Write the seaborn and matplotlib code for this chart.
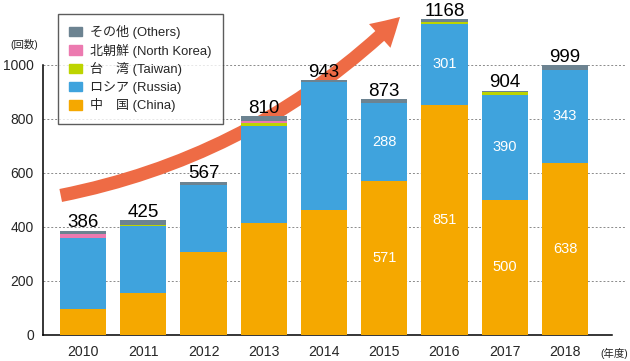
import numpy as np
import pandas as pd
import matplotlib
matplotlib.use('Agg')
import matplotlib.pyplot as plt
import matplotlib.patches as mpatches
import seaborn as sns

# data
years = ['2010', '2011', '2012', '2013', '2014', '2015', '2016', '2017', '2018']
china = [96, 156, 306, 415, 464, 571, 851, 500, 638]
russia = [264, 247, 248, 359, 473, 288, 301, 390, 343]
taiwan = [0, 5, 0, 10, 0, 0, 8, 8, 0]
north_korea = [13, 0, 0, 9, 0, 0, 0, 0, 0]
others = [13, 17, 13, 17, 6, 14, 8, 6, 18]
totals = [386, 425, 567, 810, 943, 873, 1168, 904, 999]
inner_years = ['2015', '2016', '2017', '2018']

layer_names = ['中　国 (China)', 'ロシア (Russia)', '台　湾 (Taiwan)',
               '北朝鮮 (North Korea)', 'その他 (Others)']
layer_colors = ['#F5A800', '#3FA3DD', '#BDD400', '#EC7AB0', '#6C8391']

df = pd.DataFrame({'year': years, 'china': china, 'russia': russia,
                   'taiwan': taiwan, 'nk': north_korea, 'others': others})
cols = ['china', 'russia', 'taiwan', 'nk', 'others']
cum = df[cols].cumsum(axis=1)

sns.set_style('white')
plt.rcParams['font.family'] = ['Liberation Sans', 'Noto Sans CJK JP', 'DejaVu Sans']

fig = plt.figure(figsize=(6.3, 3.61), dpi=100)
ax = fig.add_axes([43 / 630, 26 / 361, (625 - 43) / 630, 335 / 361])

# stacked bars: draw cumulative heights from the top layer down
for col, color in zip(cols[::-1], layer_colors[::-1]):
    sns.barplot(x=df['year'], y=cum[col], color=color, width=0.77,
                linewidth=0, saturation=1, ax=ax, zorder=3)

# totals above the bars
for i, t in enumerate(totals):
    top = cum['others'][i]
    ax.annotate(str(t), (i, top), xytext=(0, 2.5), textcoords='offset points',
                ha='center', va='baseline', fontsize=13.5, color='black', zorder=6)

# white labels inside the china / russia segments
for i, y in enumerate(years):
    if y in inner_years:
        ax.text(i, china[i] / 2, str(china[i]), ha='center', va='center',
                color='white', fontsize=10.5, zorder=6)
        ax.text(i, china[i] + russia[i] / 2, str(russia[i]), ha='center',
                va='center', color='white', fontsize=10.5, zorder=6)

# axes styling
ax.set_xlim(-0.664, 8.996)
ax.set_ylim(0, 1240)
ax.set_yticks([0, 200, 400, 600, 800, 1000])
ax.set_xlabel('')
ax.set_ylabel('')
for s in ['top', 'right']:
    ax.spines[s].set_visible(False)
ax.spines['left'].set_bounds(0, 1000)
ax.spines['bottom'].set_bounds(-0.664, 8.78)
for s in ['left', 'bottom']:
    ax.spines[s].set_color('black')
    ax.spines[s].set_linewidth(1.1)
ax.tick_params(axis='y', length=3.6, width=1, color='black', pad=3, labelsize=10)
ax.tick_params(axis='x', length=0, pad=7.5, labelsize=10.2)
ax.set_xticks([8.78], minor=True)
ax.tick_params(axis='x', which='minor', direction='in', length=4, width=1, color='black')
ax.yaxis.grid(True, linestyle=(0, (2, 2)), color='#8a8a8a', linewidth=0.7, zorder=0)
ax.set_axisbelow(True)
ax.yaxis.get_gridlines()[0].set_visible(False)

fig.text(10 / 630, 1 - 45 / 361, '(回数)', fontsize=7.5, ha='left', va='center')
fig.text(628 / 630, 1 - 353 / 361, '(年度)', fontsize=7.5, ha='right', va='center')

# big trend arrow (behind the bars, above the grid)
arrow = mpatches.FancyArrowPatch(
    (58 / 630, 1 - 196 / 361), (402 / 630, 1 - 15 / 361),
    transform=fig.transFigure, connectionstyle='arc3,rad=0.15',
    arrowstyle=mpatches.ArrowStyle.Simple(head_length=20, head_width=23, tail_width=9.5),
    mutation_scale=1, color='#EE6B45', lw=0, zorder=2.5)
ax.add_patch(arrow)

# legend
handles = [mpatches.Patch(color=c, label=n) for n, c in zip(layer_names, layer_colors)]
leg = fig.legend(handles=handles[::-1], loc='upper left',
                 bbox_to_anchor=(58 / 630, 1 - 14 / 361), fontsize=9.4,
                 frameon=True, fancybox=False, borderpad=0.85, labelspacing=0.35,
                 handlelength=1.0, handleheight=0.75, handletextpad=0.6,
                 borderaxespad=0)
leg.get_frame().set_edgecolor('#333333')
leg.get_frame().set_linewidth(1)
leg.set_zorder(7)

fig.savefig('out.png', dpi=100)
